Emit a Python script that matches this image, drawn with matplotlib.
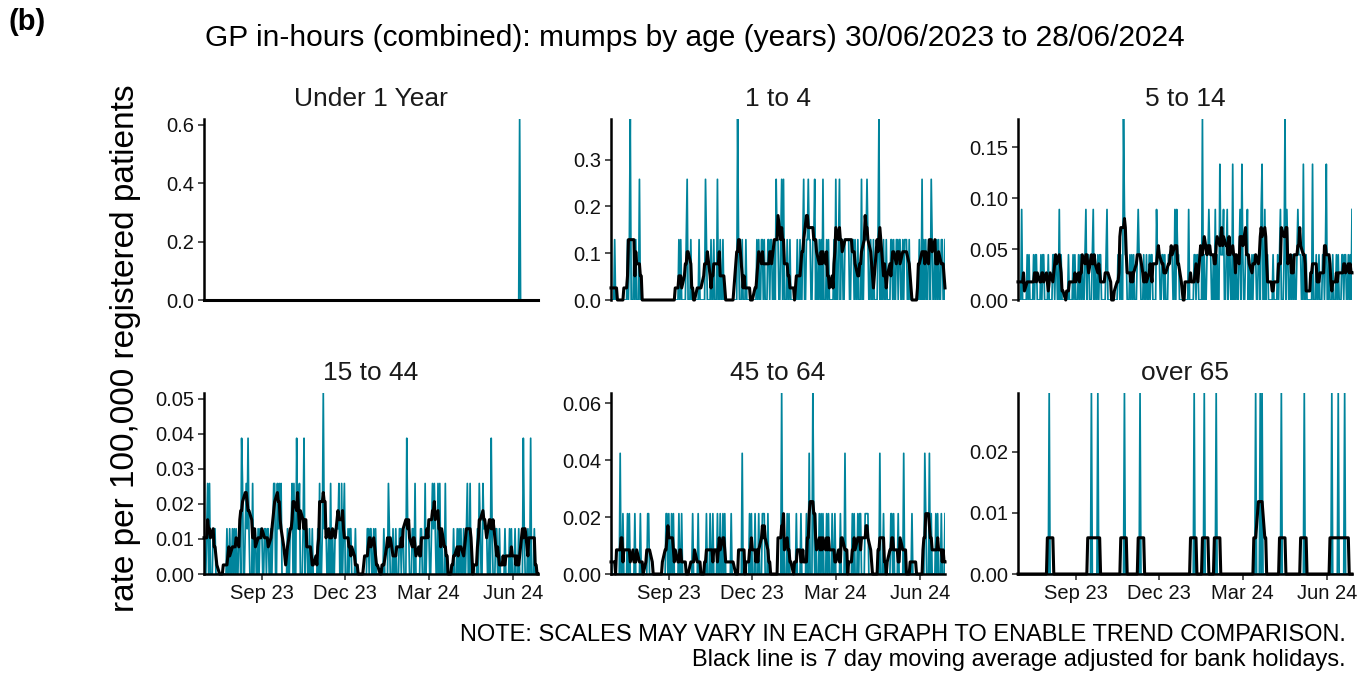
import pandas as pd
import matplotlib
matplotlib.use("Agg")
import matplotlib.pyplot as plt
import matplotlib.dates as mdates
from matplotlib.ticker import FormatStrFormatter

plt.rcParams["font.family"] = ["Liberation Sans", "DejaVu Sans"]

start = "2023-06-30"
end = "2024-06-28"

panel_titles = ["Under 1 Year", "1 to 4", "5 to 14", "15 to 44", "45 to 64", "over 65"]
# rate per 100,000 for one consultation in each age band
case_rate = [0.62, 0.129, 0.0445, 0.0129, 0.0212, 0.0296]

# daily consultations on working days: Fri 30/06/2023, then 52 Mon-Fri weeks
counts_1_4 = ("0 01000 00000 01013 01010 20000 00000 00000 00000 00000 00000 "
              "01010 00120 10000 00100 00210 01001 02001 10000 00000 00310 "
              "10001 00000 00101 11010 11011 10211 12020 10010 00001 10012 "
              "11211 11201 10102 01010 00102 12011 11111 11101 10002 11121 "
              "10010 01301 10010 01101 11011 10111 10000 00001 20101 11021 "
              "10101 11001")
counts_5_14 = ("0 02000 10100 10110 01011 00100 11011 20100 00010 01010 10101 "
               "12011 01201 10110 00120 00000 01101 42110 10101 01211 01001 "
               "10110 02111 11010 11111 20211 00000 02000 11011 00401 11211 "
               "10201 31112 12011 30101 12031 11201 10111 11023 20110 00100 "
               "10120 14021 10101 12111 30010 00030 10010 11013 10001 01010 "
               "11011 10102")
counts_15_44 = ("1 12020 11100 00000 01001 10101 11032 12131 02011 10111 11011 "
                "10122 21212 00001 11202 31120 13011 10010 00102 14111 10201 "
                "11112 20120 10110 01000 00000 11011 10100 00001 00210 10010 "
                "11011 03110 11020 00110 20111 12121 20201 02000 00010 10101 "
                "10012 20000 01021 21111 10310 11001 00010 01010 10001 00310 "
                "10030 10000")
counts_45_64 = ("1 00000 20010 01010 00100 01000 00110 00000 00000 01101 10100 "
                "01001 00000 00100 01000 00010 10010 01001 10100 00100 00000 "
                "20000 01010 10001 01110 10000 00000 03010 10100 00010 01000 "
                "10020 31010 10101 01010 10010 00100 20000 01010 10110 01111 "
                "00000 00020 10000 01101 00100 02000 00010 00000 00021 02010 "
                "01010 10001")
# sparse bands: dates with a single consultation
under1_dates = ["2024-06-08"]
over65_dates = ["2023-08-03", "2023-09-18", "2023-09-25", "2023-10-24", "2023-11-10",
                "2024-01-08", "2024-01-19", "2024-02-01", "2024-03-15", "2024-03-20",
                "2024-03-22", "2024-04-12", "2024-05-07", "2024-06-06", "2024-06-13",
                "2024-06-20"]

y_ticks = [[0, 0.2, 0.4, 0.6], [0, 0.1, 0.2, 0.3], [0, 0.05, 0.10, 0.15],
           [0, 0.01, 0.02, 0.03, 0.04, 0.05], [0, 0.02, 0.04, 0.06], [0, 0.01, 0.02]]
y_fmt = ["%.1f", "%.1f", "%.2f", "%.2f", "%.2f", "%.2f"]

days = pd.date_range(start, end)
workdays = pd.bdate_range(start, end)


def from_string(s):
    vals = [int(c) for c in s.replace(" ", "")]
    return pd.Series(vals, index=workdays).reindex(days, fill_value=0)


def from_dates(dates):
    s = pd.Series(0, index=days)
    for d in dates:
        s[pd.Timestamp(d)] += 1
    return s


series = [from_dates(under1_dates), from_string(counts_1_4), from_string(counts_5_14),
          from_string(counts_15_44), from_string(counts_45_64), from_dates(over65_dates)]

teal = "#00849C"
fig = plt.figure(figsize=(13.62, 6.75), dpi=100)

lefts = [204, 611, 1018]
bottoms = [300, 574]
for i, name in enumerate(panel_titles):
    row, col = divmod(i, 3)
    ax = fig.add_axes([lefts[col] / 1362, 1 - bottoms[row] / 675, 334 / 1362, 181 / 675])
    daily = series[i] * case_rate[i]
    # moving average over working days only (weekends and holidays left out)
    work = daily[daily.index.dayofweek < 5]
    avg = work.rolling(5, center=True, min_periods=1).sum() / 5
    ax.plot(daily.index, daily.values, color=teal, lw=1.25, zorder=2)
    ax.plot(avg.index, avg.values, color="black", lw=2.2, zorder=3, clip_on=False)

    ax.set_xlim(pd.Timestamp(start), pd.Timestamp(end))
    ax.set_ylim(0, daily.max())
    ax.set_yticks(y_ticks[i])
    ax.yaxis.set_major_formatter(FormatStrFormatter(y_fmt[i]))
    ax.set_title(name, fontsize=19, pad=9.5, color="#1a1a1a")

    for side in ["top", "right"]:
        ax.spines[side].set_visible(False)
    ax.spines["left"].set_linewidth(1.8)
    ax.spines["bottom"].set_linewidth(1.8)
    ax.tick_params(axis="both", length=4, width=1.2, color="#333333",
                   labelsize=14.5, labelcolor="#111111", pad=3)
    ax.xaxis.set_major_locator(mdates.MonthLocator(bymonth=[9, 12, 3, 6]))
    ax.xaxis.set_major_formatter(mdates.DateFormatter("%b %y"))
    if row == 0:
        ax.spines["bottom"].set_visible(False)
        ax.tick_params(axis="x", bottom=False, labelbottom=False)

fig.text(0.006, 0.967, "(b)", fontsize=21, fontweight="bold", va="center")
fig.text(0.51, 0.944, "GP in-hours (combined): mumps by age (years) 30/06/2023 to 28/06/2024",
         fontsize=21.5, ha="center", va="center")
fig.text(0.092, 0.484, "rate per 100,000 registered patients", fontsize=24,
         rotation=90, ha="center", va="center")
fig.text(0.988, 0.059, "NOTE: SCALES MAY VARY IN EACH GRAPH TO ENABLE TREND COMPARISON.",
         fontsize=17, ha="right", va="center")
fig.text(0.988, 0.022, "Black line is 7 day moving average adjusted for bank holidays.",
         fontsize=17, ha="right", va="center")

fig.savefig("out.png", dpi=100)
